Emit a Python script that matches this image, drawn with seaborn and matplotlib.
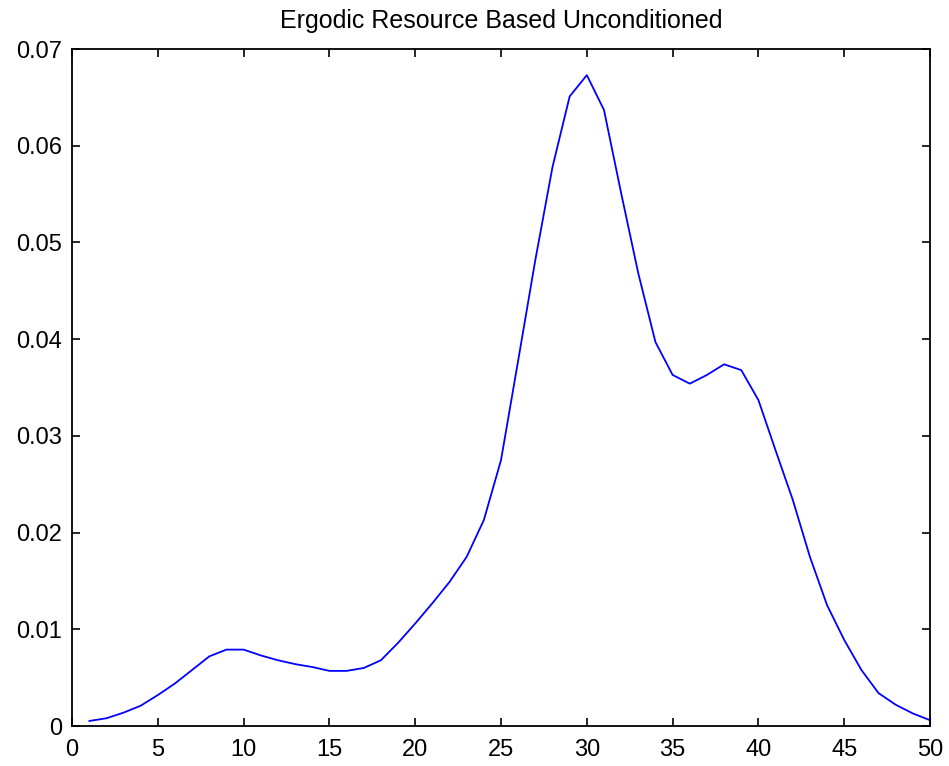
import matplotlib
matplotlib.use("Agg")
import matplotlib.pyplot as plt
import pandas as pd
import seaborn as sns

# values (x = 1..50)
x_vals = list(range(1, 51))
y_vals = [
    0.00052, 0.0008, 0.00138, 0.0021, 0.0032, 0.0044, 0.0058, 0.0072, 0.0079, 0.0079,
    0.0073, 0.0068, 0.0064, 0.0061, 0.0057, 0.0057, 0.0060, 0.0068, 0.0086, 0.0106,
    0.0127, 0.0149, 0.0175, 0.0213, 0.0275, 0.0378, 0.0482, 0.0578, 0.0651, 0.0673,
    0.0637, 0.0551, 0.0468, 0.0397, 0.0363, 0.0354, 0.0363, 0.0374, 0.0368, 0.0337,
    0.0285, 0.0234, 0.0175, 0.0125, 0.0089, 0.0058, 0.0034, 0.0022, 0.0013, 0.0006,
]
title = "Ergodic Resource Based Unconditioned"
x_ticks = [0, 5, 10, 15, 20, 25, 30, 35, 40, 45, 50]
y_ticks = [0, 0.01, 0.02, 0.03, 0.04, 0.05, 0.06, 0.07]

df = pd.DataFrame({"x": x_vals, "y": y_vals})

sns.set_style("ticks")
plt.rcParams["font.family"] = ["Liberation Sans", "DejaVu Sans"]

fig = plt.figure(figsize=(9.49, 7.66), dpi=100)
ax = fig.add_axes([0.0759, 0.0522, 0.9041, 0.8838])
sns.lineplot(data=df, x="x", y="y", color="#0000ff", linewidth=1.3, ax=ax)

ax.set_xlim(0, 50)
ax.set_ylim(0, 0.07)
ax.set_xticks(x_ticks)
ax.set_yticks(y_ticks)
ax.set_xticklabels([str(t) for t in x_ticks])
ax.set_yticklabels(["0"] + ["%.2f" % t for t in y_ticks[1:]])
ax.set_xlabel("")
ax.set_ylabel("")
ax.tick_params(direction="in", length=6, width=1.2, labelsize=17, colors="black",
               top=True, right=True)
ax.tick_params(axis="x", pad=9)
ax.tick_params(axis="y", pad=7)
for s in ax.spines.values():
    s.set_visible(True)
    s.set_linewidth(1.3)
    s.set_color("black")
ax.set_title(title, fontsize=18, pad=15, color="black")

fig.savefig("out.png", dpi=100)
